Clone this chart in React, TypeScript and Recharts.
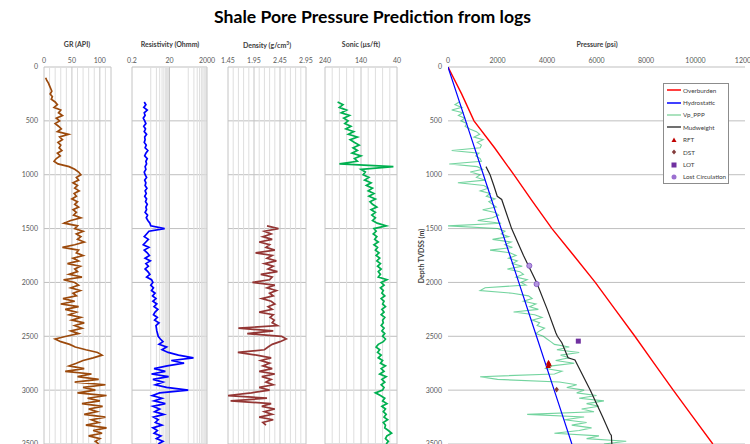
import React from "react";
import {
  ScatterChart,
  Scatter,
  XAxis,
  YAxis,
  CartesianGrid,
  ReferenceLine,
  Legend,
} from "recharts";

// log curves are read every 25 m down the hole
const STEP = 25;
const depthTicks = [0, 500, 1000, 1500, 2000, 2500, 3000, 3500];

const grTop = 100;
const grValues = [
  3, 5, 8, 10, 12, 14, 11, 15, 13,
  20, 24, 18, 30, 26, 33, 22, 28,
  20, 26, 31, 24, 44, 28, 33, 25,
  30, 27, 32, 24, 29, 22, 18, 25,
  45, 55, 62, 66, 58, 62, 52, 60,
  55, 63, 54, 58, 50, 60, 55, 62,
  52, 58, 53, 66, 48, 36, 60, 55,
  70, 58, 66, 60, 72, 55, 33, 62,
  58, 70, 52, 62, 42, 65, 55, 60,
  45, 68, 35, 55, 62, 48, 65, 52,
  58, 34, 55, 30, 62, 38, 58, 45,
  66, 50, 72, 55, 68, 48, 62, 40,
  20, 30, 46, 56, 75, 96, 104, 88,
  70, 58, 45, 72, 38, 85, 60, 98,
  55, 110, 70, 92, 60, 112, 78, 100,
  68, 105, 80, 95, 72, 110, 85, 98,
  75, 112, 88, 104, 80, 100, 92, 98,
];

const resTop = 325;
const resValues = [
  0.9, 1.1, 0.85, 1.3, 0.9, 1.0, 0.8, 0.95,
  1.1, 0.85, 1.05, 0.9, 1.2, 0.95, 1.0, 0.9,
  1.15, 1.0, 1.4, 1.1, 0.95, 1.3, 1.1, 1.2,
  1.0, 1.1, 0.9, 1.0, 1.2, 0.95, 1.1, 1.0,
  1.25, 1.0, 1.15, 0.95, 1.2, 1.05, 1.3, 1.1,
  1.2, 1.0, 1.35, 1.15, 1.4, 1.8, 2.0, 11,
  1.6, 1.2, 0.9, 1.5, 1.1, 0.8, 1.6, 0.9,
  1.3, 1.7, 1.0, 1.9, 1.1, 1.5, 1.0, 1.4,
  1.8, 1.2, 2.2, 2.6, 2.0, 2.8, 2.2, 3.4,
  2.5, 3.8, 2.6, 4.2, 3.0, 4.8, 3.4, 2.8,
  4.5, 3.2, 5.5, 3.8, 4.0, 4.2, 4.6, 5.0,
  6.5, 9, 5.5, 14, 8, 17, 60, 380,
  25, 120, 15, 3.0, 12, 2.2, 18, 2.6,
  9, 3.5, 14, 200, 6, 2.4, 8, 3.0,
  12, 2.6, 6, 3.2, 10, 2.8, 5, 3.5,
  8, 2.6, 4.5, 3.0, 7, 4.0, 9, 5,
];

const denTop = 1475;
const denValues = [
  2.2, 2.42, 2.15, 2.28, 2.12, 2.3, 2.05, 2.25,
  2.18, 2.35, 1.98, 2.3, 2.2, 2.38, 2.15, 2.32,
  2.22, 2.4, 2.08, 2.3, 2.25, 1.92, 2.35, 2.2,
  2.38, 2.25, 2.32, 2.1, 2.28, 2.35, 2.22, 2.3,
  2.05, 2.32, 2.26, 2.34, 2.3, 2.4, 1.65, 2.32,
  1.82, 2.48, 2.57, 2.45, 2.3, 2.22, 2.15, 1.64,
  2.0, 2.28, 2.08, 2.25, 2.12, 2.3, 2.05, 2.35,
  2.1, 2.28, 2.18, 2.32, 2.05, 2.25, 1.9, 1.45,
  2.2, 1.5, 2.28, 2.1, 2.35, 2.15, 2.3, 2.05,
  2.32, 2.12, 2.18,
];

const sonTop = 325;
const sonValues = [
  205, 190, 200, 180, 195, 172, 188, 176,
  185, 168, 182, 160, 175, 150, 170, 158,
  145, 162, 150, 165, 140, 158, 150, 200,
  50, 140, 128, 134, 118, 130, 112, 125,
  108, 120, 104, 118, 100, 115, 108, 96,
  112, 100, 110, 100, 108, 95, 70, 104,
  98, 106, 96, 102, 92, 104, 94, 100,
  90, 98, 88, 96, 86, 94, 84, 92,
  86, 92, 68, 84, 76, 86, 78, 82,
  74, 84, 76, 80, 72, 82, 76, 84,
  74, 80, 78, 84, 76, 82, 74, 80,
  72, 78, 92, 98, 88, 94, 84, 92,
  80, 86, 72, 84, 76, 88, 70, 82,
  74, 84, 76, 80, 100, 86, 74, 80,
  68, 82, 72, 78, 70, 76, 66, 78,
  72, 74, 64, 55, 68, 72, 64, 70,
];

const pppTop = 325;
const pppValues = [
  450, 280, 560, 150, 600, 420, 680, 520,
  760, 690, 880, 1150, 1280, 1050, 1420, 1180,
  1350, 1300, 150, 1250, 1120, 1300, 1350, 50,
  1180, 1400, 900, 1300, 1150, 1500, 400, 1450,
  1620, 1300, 1700, 1550, 1900, 1650, 1800, 1950,
  1400, 1900, 2050, 1800, 1200, 2150, 0, 2000,
  2300, 2150, 2450, 1800, 2550, 2300, 2600, 1700,
  2500, 2750, 2450, 2800, 2600, 3000, 2400, 2900,
  3050, 2750, 3200, 2950, 3150, 1500, 1300, 2600,
  3250, 3400, 3050, 3550, 3300, 3650, 2650, 3500,
  3800, 3400, 3700, 3600, 3900, 3700, 3550, 3850,
  4000, 4150, 4300, 4900, 4400, 5300, 4550, 4900,
  4350, 5100, 4200, 3950, 4600, 4300, 1300, 2000,
  4500, 5200, 4800, 5500, 5200, 6000, 5300, 6300,
  5600, 6100, 5400, 5900, 3200, 5500, 4700, 5600,
  5000, 5800, 5300, 4300, 6100, 5600, 7200, 6300,
];

const obDepth = [0, 250, 500, 750, 1000, 1250, 1500, 1750, 2000, 2250, 2500, 2750, 3000, 3250, 3500];
const obPsi = [0, 550, 1050, 1880, 2660, 3420, 4200, 5080, 5950, 6750, 7550, 8320, 9100, 9900, 10700];

const hyDepth = [0, 500, 1000, 1500, 2000, 2500, 3000, 3500];
const hyPsi = [0, 715, 1430, 2145, 2860, 3575, 4290, 5005];

const mwDepth = [925, 1000, 1100, 1200, 1230, 1500, 1750, 2000, 2250, 2470, 2500, 2560, 2700, 2720, 3000, 3250, 3400, 3420, 3500];
const mwPsi = [1535, 1700, 1850, 1990, 2170, 2570, 3050, 3580, 4010, 4360, 4420, 4600, 4850, 5130, 5750, 6250, 6540, 6600, 6620];

const rftDepth = [2745, 2760, 2775];
const rftPsi = [4060, 4090, 4050];
const dstDepth = [2995];
const dstPsi = [4390];
const lotDepth = [2545];
const lotPsi = [5265];
const lcDepth = [1845, 2015];
const lcPsi = [3285, 3580];

const toPoints = (top: number, values: number[]) =>
  values.map((v, i) => ({ d: top + i * STEP, v }));
const pair = (depths: number[], values: number[]) =>
  depths.map((d, i) => ({ d, v: values[i] }));

const PLOT_TOP = 67;
const PLOT_BOTTOM = 444;
const CHART_H = 462;
const AXIS_H = 12;
const RIGHT = 14;
const LEFT = 12;

const tickStyle = { fontSize: 7, fill: "#595959" };
const noDot = () => <g />;

// small marker shapes like the Excel ones
const triShape = (p: any) => (
  <polygon points={`${p.cx},${p.cy - 3} ${p.cx + 2.7},${p.cy + 2} ${p.cx - 2.7},${p.cy + 2}`} fill="#c00000" />
);
const diaShape = (p: any) => (
  <polygon points={`${p.cx},${p.cy - 2.8} ${p.cx + 2.2},${p.cy} ${p.cx},${p.cy + 2.8} ${p.cx - 2.2},${p.cy}`} fill="#843c3c" />
);
const sqShape = (p: any) => <rect x={p.cx - 2.5} y={p.cy - 2.5} width={5} height={5} fill="#7030a0" />;
const circShape = (p: any) => (
  <circle cx={p.cx} cy={p.cy} r={2.6} fill="#b497e0" stroke="#7f4fc0" strokeWidth={0.8} />
);

const legendItems = [
  { name: "Overburden", kind: "line", color: "#ff0000" },
  { name: "Hydrostatic", kind: "line", color: "#0000ff" },
  { name: "Vp_PPP", kind: "line", color: "#8fd9a8" },
  { name: "Mudweight", kind: "line", color: "#404040" },
  { name: "RFT", kind: "triangle", color: "#c00000" },
  { name: "DST", kind: "diamond", color: "#843c3c" },
  { name: "LOT", kind: "square", color: "#7030a0" },
  { name: "Lost Circulation", kind: "circle", color: "#9b6fd0" },
];

const legendIcon = (kind: string, color: string) => {
  if (kind === "line") return <line x1={0} y1={4} x2={14} y2={4} stroke={color} strokeWidth={1.5} />;
  if (kind === "triangle") return <polygon points="7,1.5 9.5,6 4.5,6" fill={color} />;
  if (kind === "diamond") return <polygon points="7,1.5 9.2,4 7,6.5 4.8,4" fill={color} />;
  if (kind === "square") return <rect x={4.5} y={1.5} width={5} height={5} fill={color} />;
  return <circle cx={7} cy={4} r={2.5} fill={color} />;
};

const renderLegend = () => (
  <div
    style={{
      border: "1px solid #8c8c8c",
      background: "#fff",
      padding: "0 2px 0 3px",
      fontSize: 6.3,
      color: "#404040",
      width: "max-content",
    }}
  >
    {legendItems.map((item) => (
      <div key={item.name} style={{ display: "flex", alignItems: "center", height: 12.4, whiteSpace: "nowrap" }}>
        <svg width={15} height={8} style={{ marginRight: 1, flex: "none" }}>
          {legendIcon(item.kind, item.color)}
        </svg>
        <span>{item.name}</span>
      </div>
    ))}
  </div>
);

type TrackOpts = {
  left: number;
  width: number;
  axisW?: number;
  domain: [number, number];
  ticks: number[];
  scale?: "log" | "auto";
  reversed?: boolean;
  minor?: number[];
  major?: number[];
  children: React.ReactNode;
};

const renderTrack = ({ left, width, axisW = 0, domain, ticks, scale = "auto", reversed = false, minor = [], major = [], children }: TrackOpts) => (
  <div style={{ position: "absolute", left: left - axisW - LEFT, top: 0 }}>
    <ScatterChart
      width={width + axisW + RIGHT + LEFT}
      height={CHART_H}
      margin={{ top: PLOT_TOP - AXIS_H, right: RIGHT, bottom: CHART_H - PLOT_BOTTOM, left: LEFT }}
    >
      <CartesianGrid vertical={false} stroke="#bfbfbf" />
      <XAxis
        type="number"
        dataKey="v"
        orientation="top"
        domain={domain}
        ticks={ticks}
        scale={scale}
        reversed={reversed}
        allowDataOverflow
        interval={0}
        axisLine={false}
        tickLine={false}
        tickSize={0}
        tickMargin={4}
        height={AXIS_H}
        tick={tickStyle}
      />
      <YAxis
        type="number"
        dataKey="d"
        domain={[0, 3500]}
        reversed
        ticks={depthTicks}
        interval={0}
        allowDataOverflow
        hide={!axisW}
        width={axisW}
        axisLine={false}
        tickLine={false}
        tickSize={0}
        tickMargin={6}
        tick={tickStyle}
      />
      {minor.map((v) => (
        <ReferenceLine key={"m" + v} x={v} stroke="#dedede" strokeWidth={1} />
      ))}
      {major.map((v) => (
        <ReferenceLine key={"M" + v} x={v} stroke="#c4c4c4" strokeWidth={1} />
      ))}
      {children}
    </ScatterChart>
  </div>
);

const curve = (key: string, data: { d: number; v: number }[], color: string, width = 1.6, opacity = 1) => (
  <Scatter
    key={key}
    data={data}
    fill={color}
    line={{ stroke: color, strokeWidth: width, strokeOpacity: opacity }}
    shape={noDot}
    isAnimationActive={false}
  />
);

const titleStyle: React.CSSProperties = {
  position: "absolute",
  top: 40,
  width: 120,
  textAlign: "center",
  fontSize: 7,
  fontWeight: 700,
  color: "#404040",
  whiteSpace: "nowrap",
};

export default function App() {
  return (
    <div
      style={{
        position: "absolute",
        left: 0,
        top: 0,
        width: 750,
        height: 444,
        overflow: "hidden",
        background: "#fff",
        fontFamily: "Lato, 'Open Sans', sans-serif",
      }}
    >
      <div
        style={{
          position: "absolute",
          top: 6,
          left: 0,
          width: 745,
          textAlign: "center",
          fontSize: 17.6,
          fontWeight: 700,
          color: "#000",
        }}
      >
        Shale Pore Pressure Prediction from logs
      </div>

      <div style={{ ...titleStyle, left: 77 - 60 }}>GR (API)</div>
      <div style={{ ...titleStyle, left: 170 - 60 }}>Resistivity (Ohmm)</div>
      <div style={{ ...titleStyle, left: 267 - 60 }}>
        Density (g/cm<sup style={{ fontSize: 5 }}>3</sup>)
      </div>
      <div style={{ ...titleStyle, left: 361 - 60 }}>Sonic (µs/ft)</div>
      <div style={{ ...titleStyle, left: 597 - 60 }}>Pressure (psi)</div>
      <div
        style={{
          position: "absolute",
          left: 421,
          top: 256,
          transform: "translate(-50%, -50%) rotate(-90deg)",
          fontSize: 7,
          fontWeight: 700,
          color: "#404040",
          whiteSpace: "nowrap",
        }}
      >
        Depth TVDSS (m)
      </div>

      {renderTrack({
        left: 44,
        width: 67,
        axisW: 44,
        domain: [0, 120],
        ticks: [0, 50, 100],
        minor: [10, 20, 30, 40, 60, 70, 80, 90, 110],
        major: [0, 50, 100, 120],
        children: curve("gr", toPoints(grTop, grValues), "#9c4a0c", 1.7),
      })}

      {renderTrack({
        left: 132,
        width: 75,
        domain: [0.2, 2000],
        ticks: [0.2, 20, 2000],
        scale: "log",
        minor: [2, 4, 6, 8, 10, 12, 14, 16, 18, 200, 400, 600, 800, 1000, 1200, 1400, 1600, 1800],
        major: [0.2, 20, 2000],
        children: curve("res", toPoints(resTop, resValues), "#0000ff", 1.7),
      })}

      {renderTrack({
        left: 228,
        width: 78,
        domain: [1.45, 2.95],
        ticks: [1.45, 1.95, 2.45, 2.95],
        minor: [1.55, 1.65, 1.75, 1.85, 2.05, 2.15, 2.25, 2.35, 2.55, 2.65, 2.75, 2.85],
        major: [1.45, 1.95, 2.45, 2.95],
        children: curve("den", toPoints(denTop, denValues), "#943634", 1.7),
      })}

      {renderTrack({
        left: 325,
        width: 72,
        domain: [40, 240],
        ticks: [240, 140, 40],
        reversed: true,
        minor: [60, 80, 100, 120, 160, 180, 200, 220],
        major: [40, 140, 240],
        children: curve("son", toPoints(sonTop, sonValues), "#00b050", 1.7),
      })}

      {renderTrack({
        left: 448,
        width: 297,
        axisW: 40,
        domain: [0, 12000],
        ticks: [0, 2000, 4000, 6000, 8000, 10000, 12000],
        children: [
          curve("ppp", toPoints(pppTop, pppValues), "#00b050", 1.1, 0.55),
          curve("ob", pair(obDepth, obPsi), "#ff0000", 1.4),
          curve("hy", pair(hyDepth, hyPsi), "#0000ff", 1.2),
          curve("mw", pair(mwDepth, mwPsi), "#262626", 1.2),
          <Scatter key="rft" data={pair(rftDepth, rftPsi)} fill="#c00000" shape={triShape} isAnimationActive={false} />,
          <Scatter key="dst" data={pair(dstDepth, dstPsi)} fill="#843c3c" shape={diaShape} isAnimationActive={false} />,
          <Scatter key="lot" data={pair(lotDepth, lotPsi)} fill="#7030a0" shape={sqShape} isAnimationActive={false} />,
          <Scatter key="lc" data={pair(lcDepth, lcPsi)} fill="#b497e0" shape={circShape} isAnimationActive={false} />,
          <Legend
            key="legend"
            content={renderLegend}
            layout="vertical"
            align="center"
            verticalAlign="middle"
            wrapperStyle={{ left: 255 + LEFT, top: 83, width: "auto", height: "auto" }}
          />,
        ],
      })}
    </div>
  );
}
